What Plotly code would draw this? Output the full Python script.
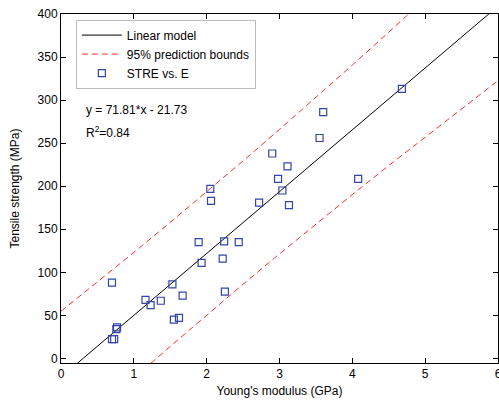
import plotly.graph_objects as go

# measured points (Young's modulus in GPa, tensile strength in MPa)
E = [0.70, 0.70, 0.73, 0.76, 0.77, 1.16, 1.23, 1.37, 1.53, 1.55,
     1.62, 1.67, 1.89, 1.93, 2.05, 2.06, 2.22, 2.24, 2.25, 2.44,
     2.72, 2.90, 2.98, 3.04, 3.11, 3.13, 3.55, 3.60, 4.08, 4.68]
STRE = [88, 22.5, 22.5, 34, 36, 68, 62, 67, 86, 45,
        47, 73, 135, 111, 197, 183, 116, 136, 77.5, 135,
        181, 238, 208.5, 195, 223, 178, 256, 286, 208.5, 313]

# linear model and 95% prediction bounds
fit_x = [0, 6]
fit_y = [-21.73, 409.13]
bound_x = [0, 0.5, 1, 1.5, 2, 2.5, 3, 3.5, 4, 4.5, 5, 5.5, 6]
upper = [54.8, 88.7, 123.1, 158.0, 193.4, 229.4, 266.0, 303.1, 340.7,
         378.8, 417.4, 456.3, 495.6]
lower = [-98.2, -60.3, -22.9, 14.0, 50.4, 86.2, 121.4, 156.1, 190.3,
         224.0, 257.2, 290.1, 322.6]

font = dict(family='Liberation Sans, Arial, sans-serif', size=12, color='black')

fig = go.Figure()
fig.add_trace(go.Scatter(x=fit_x, y=fit_y, mode='lines', name='Linear model',
                         line=dict(color='black', width=1)))
fig.add_trace(go.Scatter(x=bound_x, y=upper, mode='lines', name='95% prediction bounds',
                         line=dict(color='#FF2A2A', width=1, dash='6px,4px')))
fig.add_trace(go.Scatter(x=bound_x, y=lower, mode='lines', showlegend=False,
                         line=dict(color='#FF2A2A', width=1, dash='6px,4px')))
fig.add_trace(go.Scatter(x=E, y=STRE, mode='markers', name='STRE vs. E',
                         marker=dict(symbol='square-open', size=7, color='#3344AA',
                                     line=dict(width=1.2))))

fig.add_annotation(x=0.317, y=288, text='y = 71.81*x - 21.73', showarrow=False,
                   xanchor='left', yanchor='middle', font=font)
fig.add_annotation(x=0.317, y=263, text='R<sup>2</sup>=0.84', showarrow=False,
                   xanchor='left', yanchor='middle', font=font)

axis = dict(showgrid=False, zeroline=False, showline=True, linecolor='black',
            linewidth=1, mirror='ticks', ticks='inside', ticklen=5,
            tickcolor='black', tickfont=font, automargin=False,
            ticklabeloverflow='allow')
fig.update_xaxes(range=[0, 6], dtick=1, title=dict(text="Young's modulus (GPa)",
                 font=font, standoff=6), **axis)
fig.update_yaxes(range=[-5.3, 400], dtick=50, title=dict(text='Tensile strength (MPa)',
                 font=font, standoff=15), **axis)

fig.update_layout(
    width=499, height=404,
    margin=dict(l=61, r=1, t=14, b=41),
    paper_bgcolor='white', plot_bgcolor='white',
    font=font,
    legend=dict(x=0.034, y=0.984, xanchor='left', yanchor='top',
                bgcolor='white', bordercolor='#BBBBBB', borderwidth=1,
                itemwidth=40, entrywidth=140, tracegroupgap=0, font=font),
)

# drop the default page margin so the figure fills the window exactly
fig.write_html("out.html", config={'displayModeBar': False},
               post_script="document.body.style.margin='0';"
                           "document.body.style.overflow='hidden';")
